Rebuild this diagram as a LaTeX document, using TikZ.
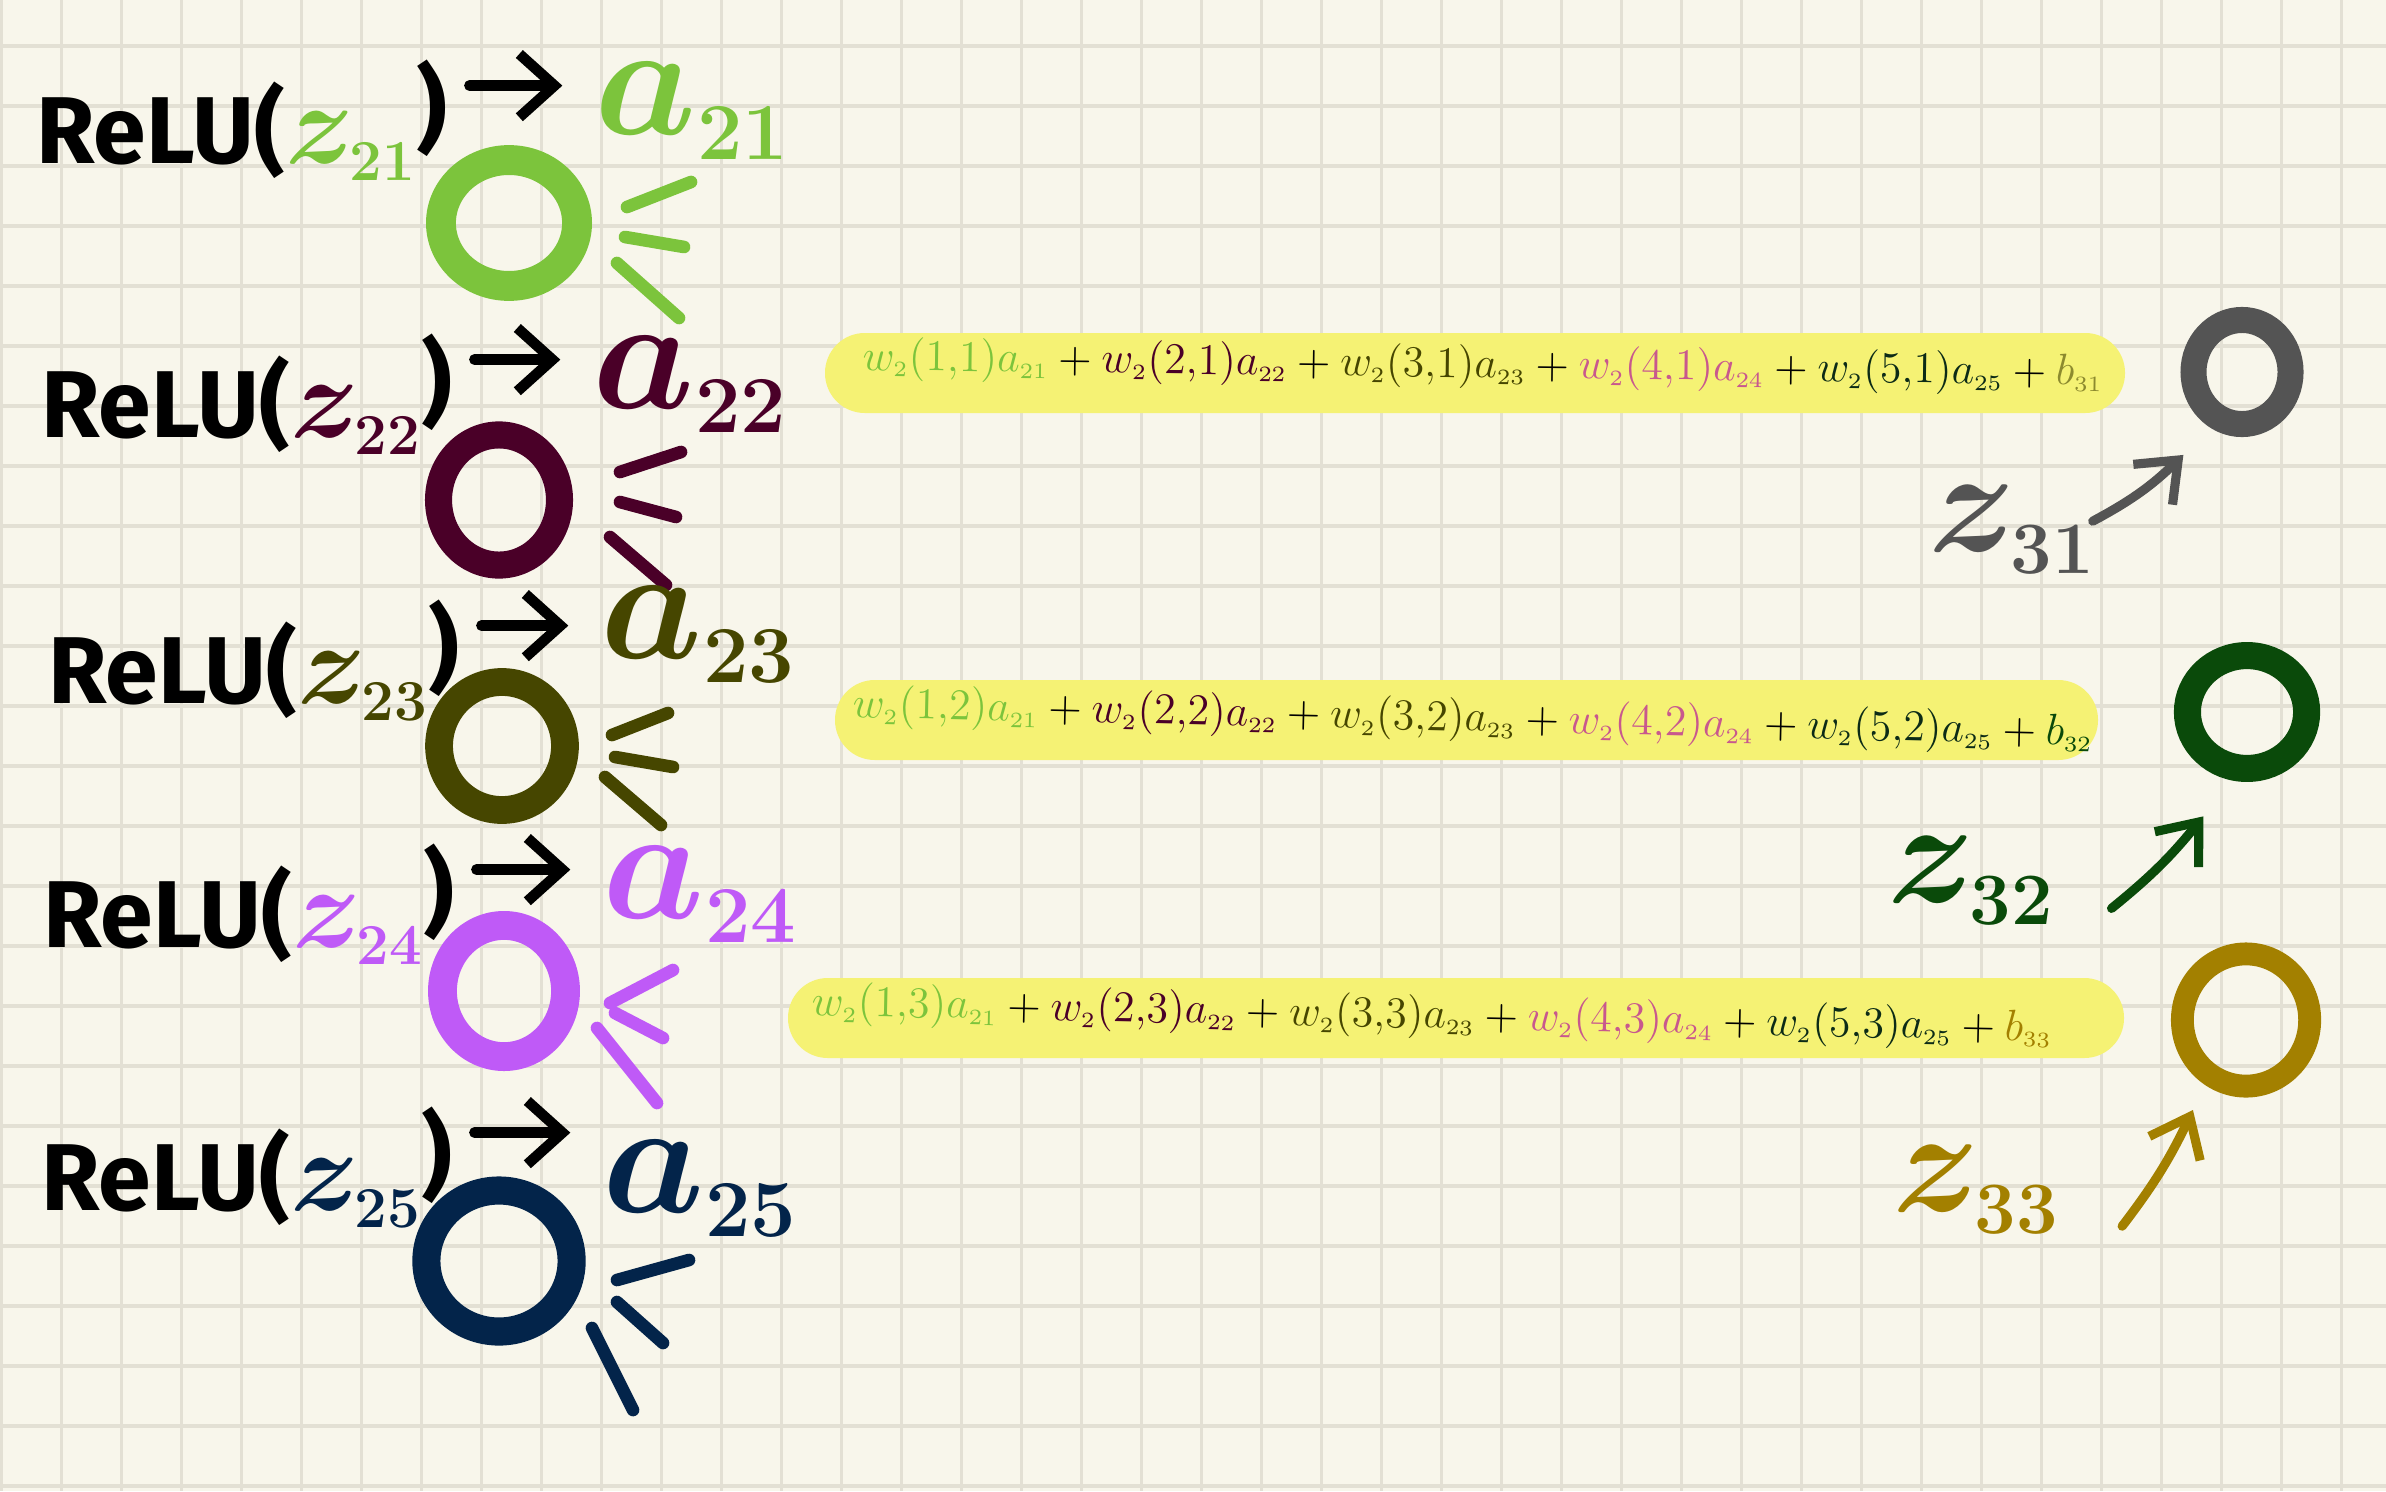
\RequirePackage{fix-cm}
\documentclass[tikz,border=0pt]{standalone}
\usepackage{fontspec}
\setsansfont{Fira Sans}
\usepackage{amsmath}
\usetikzlibrary{arrows.meta,shapes.geometric}

\definecolor{paper}{HTML}{F8F6EB}
\definecolor{gridc}{HTML}{E3E0D4}
\definecolor{hilite}{HTML}{F5F274}
\definecolor{cone}{HTML}{7CC43C}
\definecolor{ctwo}{HTML}{4A0028}
\definecolor{cthree}{HTML}{464600}
\definecolor{cfour}{HTML}{BF5AF7}
\definecolor{cfive}{HTML}{03244A}
\definecolor{cpink}{HTML}{C8588E}
\definecolor{cdark}{HTML}{0C2B16}
\definecolor{cgrey}{HTML}{545454}
\definecolor{cgreen}{HTML}{0A4A0A}
\definecolor{cgold}{HTML}{A38000}
\definecolor{ckhaki}{HTML}{8C8A2E}

\newcommand{\sbs}[1]{_{\scriptscriptstyle #1}}
\newcommand{\zin}[2]{{\color{#1}\fontsize{33}{33}\selectfont\boldmath$z\sbs{#2}$}\raisebox{6pt}{)}}

\tikzset{
  gridline/.style={gridc, line width=1.1pt},
  relu/.style={inner sep=0pt, anchor=base west, font=\sffamily\bfseries\fontsize{27}{27}\selectfont},
  act/.style={inner sep=0pt, anchor=base west, font=\fontsize{46}{46}\selectfont\boldmath},
  neuron/.style={ellipse, draw, inner sep=0pt},
  ray/.style={line width=3.6pt, line cap=round},
  relarr/.style={line width=3pt, line cap=round, shorten >=9pt, -{Straight Barb[length=10pt,width=18pt]}},
  eqn/.style={inner sep=0pt, anchor=base west, font=\fontsize{12.5}{13}\selectfont},
  zlbl/.style={inner sep=0pt, anchor=base west, font=\fontsize{42}{42}\selectfont\boldmath},
  zarr/.style={line width=2.6pt, line cap=round, -{Straight Barb[length=10pt,width=16pt]}},
}

\begin{document}
\begin{tikzpicture}[x=0.01cm,y=-0.01cm]
\useasboundingbox (0,0) rectangle (2386,1491);
\fill[paper] (0,0) rectangle (2386,1491);
\foreach \gx in {0,...,39} \draw[gridline] ({1.5+60*\gx},0) -- ++(0,1491);
\foreach \gy in {0,...,24} \draw[gridline] (0,{46+60*\gy}) -- ++(2386,0);

% highlighted sums
\fill[hilite, rounded corners=11.3pt] (825,333) rectangle (2125,413);
\fill[hilite, rounded corners=11.3pt] (835,680) rectangle (2098,760);
\fill[hilite, rounded corners=11.3pt] (788,978) rectangle (2124,1058);

% layer 2
\node[relu] (r21) at (36,163) {ReLU(\zin{cone}{21}};
\node[act, text=cone] (a21) at (594,135) {$a\sbs{21}$};
\node[neuron, draw=cone, line width=8.5pt, minimum width=38.7pt, minimum height=35.8pt] (n21) at (509,223) {};
\draw[ray, cone] (627,207) -- (691,182) (625,237) -- (684,247) (617,263) -- (679,318);

\node[relu] (r22) at (41,437) {ReLU(\zin{ctwo}{22}};
\node[act, text=ctwo] (a22) at (592,408) {$a\sbs{22}$};
\node[neuron, draw=ctwo, line width=7.7pt, minimum width=34.4pt, minimum height=37pt] (n22) at (499,500) {};
\draw[ray, ctwo] (620,472) -- (681,452) (620,502) -- (676,517) (610,537) -- (666,585);

\node[relu] (r23) at (48,703) {ReLU(\zin{cthree}{23}};
\node[act, text=cthree] (a23) at (600,658) {$a\sbs{23}$};
\node[neuron, draw=cthree, line width=7.9pt, minimum width=35.8pt, minimum height=36.4pt] (n23) at (502,746) {};
\draw[ray, cthree] (612,735) -- (668,713) (615,757) -- (673,767) (605,777) -- (661,825);

\node[relu] (r24) at (43,947) {ReLU(\zin{cfour}{24}};
\node[act, text=cfour] (a24) at (602,918) {$a\sbs{24}$};
\node[neuron, draw=cfour, line width=8.2pt, minimum width=35pt, minimum height=37.3pt] (n24) at (504,991) {};
\draw[ray, cfour] (610,1003) -- (673,970) (615,1013) -- (663,1038) (597,1028) -- (657,1103);

\node[relu] (r25) at (41,1210) {ReLU(\zin{cfive}{25}};
\node[act, text=cfive] (a25) at (602,1212) {$a\sbs{25}$};
\node[neuron, draw=cfive, line width=8pt, minimum width=41.3pt, minimum height=40.1pt] (n25) at (499,1261) {};
\draw[ray, cfive] (617,1280) -- (689,1260) (617,1302) -- (663,1343) (592,1328) -- (633,1410);

\foreach \k in {21,...,25} {
  \coordinate (s\k) at ([xshift=6pt,yshift=22pt]r\k.base east);
  \draw[relarr] (s\k) -- (s\k -| a\k.west);
}

% weighted sums
\node[eqn, rotate=-0.7] (sum31) at (862,370) {$\textcolor{cone}{w\sbs{2}(1{,}1)a\sbs{21}} + \textcolor{ctwo}{w\sbs{2}(2{,}1)a\sbs{22}} + \textcolor{cthree}{w\sbs{2}(3{,}1)a\sbs{23}} + \textcolor{cpink}{w\sbs{2}(4{,}1)a\sbs{24}} + \textcolor{cdark}{w\sbs{2}(5{,}1)a\sbs{25}} + \textcolor{ckhaki}{b\sbs{31}}$};
\node[eqn, rotate=-1.3] (sum32) at (852,717) {$\textcolor{cone}{w\sbs{2}(1{,}2)a\sbs{21}} + \textcolor{ctwo}{w\sbs{2}(2{,}2)a\sbs{22}} + \textcolor{cthree}{w\sbs{2}(3{,}2)a\sbs{23}} + \textcolor{cpink}{w\sbs{2}(4{,}2)a\sbs{24}} + \textcolor{cdark}{w\sbs{2}(5{,}2)a\sbs{25}} + \textcolor{cgreen}{b\sbs{32}}$};
\node[eqn, rotate=-1.2] (sum33) at (811,1015) {$\textcolor{cone}{w\sbs{2}(1{,}3)a\sbs{21}} + \textcolor{ctwo}{w\sbs{2}(2{,}3)a\sbs{22}} + \textcolor{cthree}{w\sbs{2}(3{,}3)a\sbs{23}} + \textcolor{cpink}{w\sbs{2}(4{,}3)a\sbs{24}} + \textcolor{cdark}{w\sbs{2}(5{,}3)a\sbs{25}} + \textcolor{cgold}{b\sbs{33}}$};

% layer 3
\node[neuron, draw=cgrey, line width=7.4pt, minimum width=27.6pt, minimum height=29.6pt] (n31) at (2242,372) {};
\node[neuron, draw=cgreen, line width=7.7pt, minimum width=33.9pt, minimum height=32.1pt] (n32) at (2247,712) {};
\node[neuron, draw=cgold, line width=6.5pt, minimum width=36.2pt, minimum height=37.6pt] (n33) at (2246,1020) {};

\node[zlbl, text=cgrey] (z31) at (1928,551) {$z\sbs{31}$};
\node[zlbl, text=cgreen] (z32) at (1887,902) {$z\sbs{32}$};
\node[zlbl, text=cgold] (z33) at (1892,1211) {$z\sbs{33}$};

\draw[zarr, cgrey] ([xshift=-1pt,yshift=2.3pt]z31.east) to[bend right=8] ([xshift=-4.3pt,yshift=-10.5pt]n31.south west);
\draw[zarr, cgreen] ([xshift=16pt,yshift=-8pt]z32.east) to[bend right=6] ([xshift=2.3pt,yshift=-15.6pt]n32.south west);
\draw[zarr, cgold] ([xshift=17.6pt,yshift=-10.5pt]z33.east) to[bend right=6] ([yshift=-10pt]n33.south west);
\end{tikzpicture}
\end{document}
